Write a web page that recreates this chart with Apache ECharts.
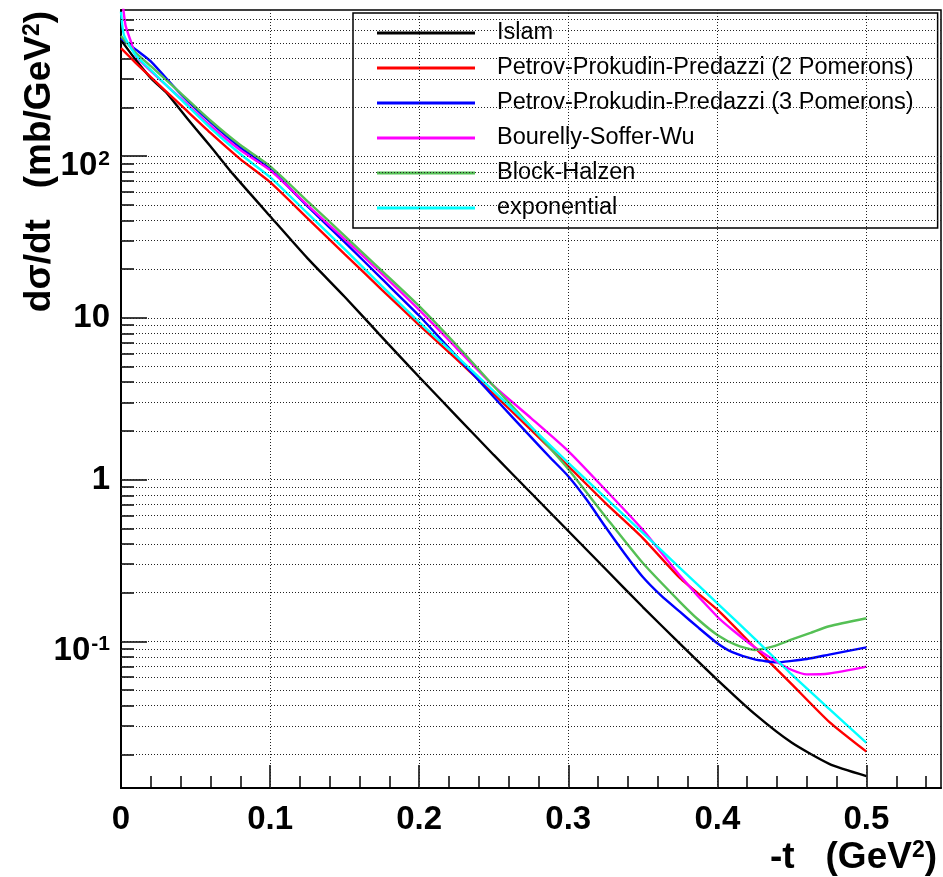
<!DOCTYPE html>
<html><head><meta charset="utf-8">
<script src="https://cdn.jsdelivr.net/npm/echarts@6/dist/echarts.min.js"></script>
<style>html,body{margin:0;padding:0;background:#fff}#c{width:943px;height:877px}</style>
</head><body><div id="c"></div>
<script>
// ---- data ----
const seriesNames = ['Islam', 'Petrov-Prokudin-Predazzi (2 Pomerons)', 'Petrov-Prokudin-Predazzi (3 Pomerons)', 'Bourelly-Soffer-Wu', 'Block-Halzen', 'exponential'];
const seriesColors = ['#000000', '#ff0000', '#0000ff', '#ff00ff', '#55c055', '#00ffff'];

const islamT = [0, 0.01, 0.02, 0.03, 0.04, 0.05, 0.06, 0.075, 0.1, 0.125, 0.15, 0.175, 0.2, 0.225, 0.25, 0.275, 0.3, 0.325, 0.35, 0.375, 0.4, 0.425, 0.45, 0.475, 0.5];
const islamY = [521, 392, 303, 249, 192, 148, 115, 77.6, 42.5, 23.4, 13.5, 7.60, 4.31, 2.47, 1.42, 0.826, 0.481, 0.280, 0.163, 0.0964, 0.0578, 0.0356, 0.0236, 0.0175, 0.0147];

const ppp2T = [0, 0.01, 0.02, 0.04, 0.06, 0.08, 0.1, 0.125, 0.15, 0.175, 0.2, 0.225, 0.25, 0.275, 0.3, 0.325, 0.35, 0.375, 0.4, 0.425, 0.45, 0.475, 0.5];
const ppp2Y = [465, 376, 308, 207, 139, 95.8, 69.0, 41.4, 24.8, 14.9, 9.02, 5.56, 3.38, 2.03, 1.21, 0.716, 0.435, 0.246, 0.157, 0.0918, 0.0542, 0.0318, 0.0208];

const ppp3T = [0, 0.01, 0.02, 0.04, 0.06, 0.08, 0.1, 0.125, 0.15, 0.175, 0.2, 0.225, 0.25, 0.275, 0.2875, 0.3, 0.3125, 0.325, 0.3375, 0.35, 0.3625, 0.375, 0.3875, 0.4, 0.41, 0.425, 0.44, 0.45, 0.46, 0.475, 0.5];
const ppp3Y = [535, 455, 385, 242, 162, 113, 83.2, 49.1, 29.4, 17.4, 10.3, 5.80, 3.24, 1.83, 1.38, 1.05, 0.748, 0.509, 0.352, 0.250, 0.191, 0.152, 0.121, 0.0973, 0.0857, 0.0773, 0.0741, 0.0757, 0.0778, 0.0828, 0.0918];

const bswT = [0, 0.003, 0.007, 0.01, 0.02, 0.04, 0.06, 0.08, 0.1, 0.125, 0.15, 0.175, 0.2, 0.225, 0.25, 0.275, 0.3, 0.325, 0.35, 0.375, 0.4, 0.41, 0.425, 0.44, 0.45, 0.46, 0.475, 0.5];
const bswY = [1100, 646, 499, 415, 335, 228, 154, 109, 81.8, 49.8, 30.7, 18.7, 11.2, 6.50, 3.79, 2.40, 1.50, 0.863, 0.489, 0.254, 0.142, 0.118, 0.0920, 0.0746, 0.0665, 0.0625, 0.0633, 0.0698];

const bhT = [0, 0.01, 0.02, 0.04, 0.06, 0.08, 0.1, 0.125, 0.15, 0.175, 0.2, 0.225, 0.25, 0.275, 0.3, 0.325, 0.35, 0.375, 0.3875, 0.4, 0.4125, 0.425, 0.4375, 0.45, 0.4625, 0.475, 0.5];
const bhY = [552, 433, 360, 245, 166, 117, 86.7, 52.7, 32.1, 19.5, 11.8, 6.79, 3.79, 2.12, 1.16, 0.590, 0.305, 0.175, 0.1355, 0.1096, 0.0951, 0.0885, 0.0930, 0.1027, 0.1128, 0.124, 0.139];

const expT = [0, 0.002, 0.01, 0.02, 0.04, 0.06, 0.08, 0.1, 0.125, 0.15, 0.175, 0.2, 0.225, 0.25, 0.275, 0.3, 0.325, 0.35, 0.375, 0.4, 0.425, 0.45, 0.475, 0.5];
const expY = [780, 560, 418, 340, 225, 149, 103, 74.1, 44.4, 26.6, 15.7, 9.42, 5.80, 3.52, 2.12, 1.27, 0.770, 0.468, 0.284, 0.172, 0.104, 0.0622, 0.0382, 0.0236];

const xMajorTicks = [0, 0.1, 0.2, 0.3, 0.4, 0.5];
const xMajorLabels = ['0', '0.1', '0.2', '0.3', '0.4', '0.5'];
const xMinorTicks = [0.02, 0.04, 0.06, 0.08, 0.12, 0.14, 0.16, 0.18, 0.22, 0.24, 0.26, 0.28, 0.32, 0.34, 0.36, 0.38, 0.42, 0.44, 0.46, 0.48, 0.52, 0.54];
const xGridLines = [0.1, 0.2, 0.3, 0.4, 0.5];

const yMajorTicks = [0.1, 1, 10, 100];
const yMajorLabels = ['10^-1', '1', '10', '10^2'];
const yMinorTicks = [0.02, 0.03, 0.04, 0.05, 0.06, 0.07, 0.08, 0.09, 0.2, 0.3, 0.4, 0.5, 0.6, 0.7, 0.8, 0.9, 2, 3, 4, 5, 6, 7, 8, 9, 20, 30, 40, 50, 60, 70, 80, 90, 200, 300, 400, 500, 600, 700];
const yGridLines = yMinorTicks.concat(yMajorTicks);

// ---- chart ----
const font = 'Liberation Sans, Arial, Helvetica, sans-serif';
const rect = { left: 121, right: 2, top: 10, bottom: 89 };
const curves = [[islamT, islamY], [ppp2T, ppp2Y], [ppp3T, ppp3Y], [bswT, bswY], [bhT, bhY], [expT, expY]];

function nearestIndex(arr, v) {
  let best = 0;
  for (let i = 1; i < arr.length; i++) {
    if (Math.abs(Math.log(arr[i]) - Math.log(v)) < Math.abs(Math.log(arr[best]) - Math.log(v))) best = i;
  }
  return best;
}

const gridLineData = yGridLines.map(v => ({ yAxis: v })).concat(xGridLines.map(v => ({ xAxis: v })));

const series = [{
  type: 'line', name: '_grid', xAxisIndex: 0, yAxisIndex: 0, data: [], silent: true, z: 1,
  markLine: {
    silent: true, animation: false, symbol: ['none', 'none'], label: { show: false },
    lineStyle: { type: [1, 2], color: '#222', width: 1 }, emphasis: { disabled: true },
    data: gridLineData
  }
}];
curves.forEach((c, k) => {
  series.push({
    type: 'line', name: seriesNames[k], xAxisIndex: 0, yAxisIndex: 0,
    data: c[0].map((t, i) => [t, c[1][i]]),
    symbol: 'none', showSymbol: false, smooth: 0.2, clip: true, z: 3,
    lineStyle: { color: seriesColors[k], width: 2.4 }, itemStyle: { color: seriesColors[k] },
    emphasis: { disabled: true }
  });
});

const labelRich = {
  p: { fontSize: 33, fontWeight: 'bold', fontFamily: font, color: '#000' },
  b: { fontSize: 33, fontWeight: 'bold', fontFamily: font, color: '#000', padding: [20, 0, 0, 0], verticalAlign: 'bottom' },
  s: { fontSize: 21, fontWeight: 'bold', fontFamily: font, color: '#000', padding: [19, 0, 0, 1], verticalAlign: 'top' }
};
const titleRich = {
  a: { fontSize: 37, fontWeight: 'bold', fontFamily: font, fill: '#000' },
  s: { fontSize: 23, fontWeight: 'bold', fontFamily: font, fill: '#000', verticalAlign: 'top' }
};

const option = {
  animation: false,
  backgroundColor: '#fff',
  grid: [
    Object.assign({ show: true, borderColor: '#000', borderWidth: 1.5, backgroundColor: 'rgba(0,0,0,0)', containLabel: false, outerBoundsMode: 'none' }, rect),
    Object.assign({ show: false, containLabel: false, outerBoundsMode: 'none' }, rect)
  ],
  xAxis: [
    { gridIndex: 0, type: 'value', min: 0, max: 0.55,
      axisLine: { show: true, onZero: false, lineStyle: { color: '#000', width: 2 } },
      axisTick: { show: true, inside: true, length: 12, customValues: xMinorTicks, lineStyle: { color: '#000', width: 1.5 } },
      axisLabel: { show: false }, splitLine: { show: false } },
    { gridIndex: 1, type: 'value', min: 0, max: 0.55,
      axisLine: { show: false, onZero: false },
      axisTick: { show: true, inside: true, length: 23, customValues: xMajorTicks, lineStyle: { color: '#000', width: 1.5 } },
      axisLabel: { show: true, customValues: xMajorTicks, margin: 15, fontSize: 33, fontWeight: 'bold', fontFamily: font, color: '#000',
        formatter: v => xMajorLabels[xMajorTicks.findIndex(x => Math.abs(x - v) < 1e-6)] },
      splitLine: { show: false } }
  ],
  yAxis: [
    { gridIndex: 0, type: 'log', logBase: 10, min: 0.0124, max: 800,
      axisLine: { show: true, onZero: false, lineStyle: { color: '#000', width: 2 } },
      axisTick: { show: true, inside: true, length: 13, customValues: yMinorTicks, lineStyle: { color: '#000', width: 1.5 } },
      axisLabel: { show: false }, splitLine: { show: false }, minorTick: { show: false } },
    { gridIndex: 1, type: 'log', logBase: 10, min: 0.0124, max: 800,
      axisLine: { show: false, onZero: false },
      axisTick: { show: true, inside: true, length: 26, customValues: yMajorTicks, lineStyle: { color: '#000', width: 1.5 } },
      axisLabel: { show: true, customValues: yMajorTicks, margin: 11, rich: labelRich,
        formatter: v => {
          const lab = yMajorLabels[nearestIndex(yMajorTicks, v)];
          if (lab.indexOf('^') >= 0) { const p = lab.split('^'); return '{b|' + p[0] + '}{s|' + p[1] + '}'; }
          return '{p|' + lab + '}';
        } },
      splitLine: { show: false } }
  ],
  legend: {
    data: seriesNames, orient: 'vertical', left: 353, top: 13, padding: [8, 24, 8, 24],
    icon: 'rect', itemWidth: 98, itemHeight: 3, itemGap: 11, backgroundColor: '#fff', borderColor: '#000', borderWidth: 1.5,
    selectedMode: false,
    textStyle: { fontSize: 23.5, fontFamily: font, color: '#000', padding: [0, 0, 0, 17] }
  },
  graphic: [
    { type: 'text', x: 40, y: 11, rotation: Math.PI / 2, z: 10,
      style: { text: '{a|dσ/dt   (mb/GeV}{s|2}{a|)}', align: 'right', verticalAlign: 'middle', rich: titleRich } },
    { type: 'text', x: 937, y: 858, z: 10,
      style: { text: '{a|-t   (GeV}{s|2}{a|)}', align: 'right', verticalAlign: 'middle', rich: titleRich } }
  ],
  series: series
};

const chart = echarts.init(document.getElementById('c'), null, { renderer: 'canvas' });
chart.setOption(option);
</script>
</body></html>
